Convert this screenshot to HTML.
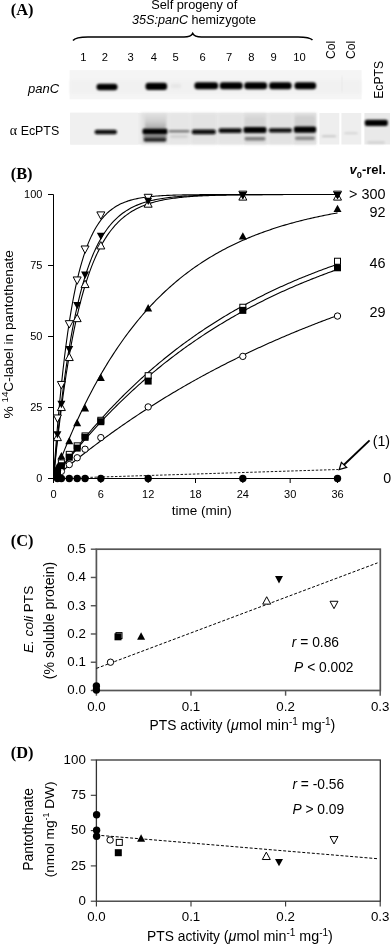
<!DOCTYPE html><html><head><meta charset="utf-8"><style>html,body{margin:0;padding:0;background:#fff;width:392px;height:944px;overflow:hidden}svg{display:block;will-change:transform}text{font-family:"Liberation Sans",sans-serif}</style></head><body>
<svg width="392" height="944" viewBox="0 0 392 944">
<defs><filter id="bl1" x="-50%" y="-200%" width="200%" height="500%"><feGaussianBlur stdDeviation="0.9"/></filter><filter id="bl2" x="-50%" y="-200%" width="200%" height="500%"><feGaussianBlur stdDeviation="1.4"/></filter><linearGradient id="sm" x1="0" y1="1" x2="0" y2="0"><stop offset="0" stop-color="#ababab"/><stop offset="0.45" stop-color="#cdcdcd"/><stop offset="1" stop-color="#e0e0e0"/></linearGradient><filter id="bl3" x="-20%" y="-20%" width="140%" height="140%"><feGaussianBlur stdDeviation="2.5"/></filter></defs>
<rect width="392" height="944" fill="#fff"/>
<text x="10.8" y="15.3" font-family="Liberation Serif" font-weight="bold" font-size="16.4" style="font-family:'Liberation Serif',serif">(A)</text>
<text x="194.2" y="9.3" font-size="12.8" text-anchor="middle">Self progeny of</text>
<text x="194" y="24.4" font-size="12.6" text-anchor="middle"><tspan font-style="italic">35S:panC</tspan> hemizygote</text>
<path d="M73,40.5 C75,37.8 79,37 88,37 L184,37 C189,37 191.5,35.8 192.7,33.4 C193.9,35.8 196.4,37 201.4,37 L298,37 C306,37 310.5,37.9 312.5,40.1" fill="none" stroke="#000" stroke-width="1.5"/>
<text x="83.3" y="60.8" font-size="11.2" text-anchor="middle">1</text>
<text x="104.8" y="60.8" font-size="11.2" text-anchor="middle">2</text>
<text x="130.7" y="60.8" font-size="11.2" text-anchor="middle">3</text>
<text x="153.9" y="60.8" font-size="11.2" text-anchor="middle">4</text>
<text x="175.5" y="60.8" font-size="11.2" text-anchor="middle">5</text>
<text x="202.6" y="60.8" font-size="11.2" text-anchor="middle">6</text>
<text x="229.1" y="60.8" font-size="11.2" text-anchor="middle">7</text>
<text x="251.4" y="60.8" font-size="11.2" text-anchor="middle">8</text>
<text x="273.6" y="60.8" font-size="11.2" text-anchor="middle">9</text>
<text x="299.5" y="60.8" font-size="11.2" text-anchor="middle">10</text>
<text transform="translate(334.6,59.1) rotate(-90)" font-size="12.2">Col</text>
<text transform="translate(355.3,59.1) rotate(-90)" font-size="12.2">Col</text>
<text transform="translate(382.8,98.8) rotate(-90)" font-size="12.2">EcPTS</text>
<text x="59.2" y="93.2" font-size="13" font-style="italic" text-anchor="end">panC</text>
<text x="59.2" y="134.5" font-size="12.4" text-anchor="end"><tspan style="font-family:'Liberation Serif',serif" font-size="14">&#945;</tspan> EcPTS</text>
<rect x="69.6" y="70.1" width="292" height="29.2" fill="#f5f5f5"/>
<rect x="70" y="80" width="291" height="14" fill="#f1f1f1" filter="url(#bl2)"/>
<rect x="341.5" y="76" width="1" height="16" fill="#e6e6e6" filter="url(#bl1)"/>
<rect x="96.5" y="83.75" width="21" height="6.5" rx="3" fill="#000" filter="url(#bl1)"/>
<rect x="145.5" y="82.65" width="21.6" height="7.3" rx="3" fill="#000" filter="url(#bl1)"/>
<rect x="194.45" y="82.2" width="23.7" height="7" rx="3" fill="#000" filter="url(#bl1)"/>
<rect x="219.75" y="82.2" width="22.9" height="7" rx="3" fill="#000" filter="url(#bl1)"/>
<rect x="244.3" y="82.2" width="22.8" height="7" rx="3" fill="#000" filter="url(#bl1)"/>
<rect x="269.2" y="82.2" width="22.4" height="7" rx="3" fill="#000" filter="url(#bl1)"/>
<rect x="294.5" y="82.2" width="21.6" height="7" rx="3" fill="#000" filter="url(#bl1)"/>
<rect x="171" y="84.5" width="10" height="3" fill="#e2e2e2" filter="url(#bl2)"/>
<rect x="70.2" y="112.8" width="246.1" height="31.7" fill="#ededed"/>
<rect x="70.2" y="112.8" width="68" height="31.7" fill="#f0f0f0"/>
<rect x="141" y="113" width="27" height="31.3" fill="#e0e0e0" filter="url(#bl2)"/>
<rect x="168.5" y="113" width="21.5" height="31.3" fill="#e6e6e6" filter="url(#bl2)"/>
<rect x="191" y="113" width="26" height="31.3" fill="#e3e3e3" filter="url(#bl2)"/>
<rect x="218" y="113" width="24.5" height="31.3" fill="#e4e4e4" filter="url(#bl2)"/>
<rect x="243.5" y="113" width="23.5" height="31.3" fill="#dcdcdc" filter="url(#bl2)"/>
<rect x="268.5" y="113" width="24" height="31.3" fill="#e2e2e2" filter="url(#bl2)"/>
<rect x="293.5" y="113" width="22.8" height="31.3" fill="#dcdcdc" filter="url(#bl2)"/>
<rect x="319.4" y="113" width="19.9" height="31.5" fill="#eeeeee"/>
<rect x="341.4" y="113" width="19.9" height="31.5" fill="#eeeeee"/>
<rect x="364.4" y="113" width="25.6" height="31.5" fill="#e9e9e9"/>
<rect x="145" y="114" width="21" height="14" rx="2" fill="url(#sm)" filter="url(#bl1)"/>
<rect x="245" y="117" width="20" height="10" rx="2" fill="#d4d4d4" filter="url(#bl1)"/>
<rect x="295" y="116" width="20" height="10" rx="2" fill="#d0d0d0" filter="url(#bl1)"/>
<rect x="94.65" y="129.8" width="22.3" height="4.4" rx="2" fill="#111" filter="url(#bl1)"/>
<rect x="143" y="135" width="24" height="3" rx="2" fill="#8a8a8a" filter="url(#bl1)"/>
<rect x="142.5" y="128.5" width="25" height="6" rx="2" fill="#000" filter="url(#bl1)"/>
<rect x="143.5" y="137.4" width="23" height="4.4" rx="2" fill="#262626" filter="url(#bl1)"/>
<rect x="168.3" y="129.9" width="21.4" height="2.6" rx="2" fill="#777" filter="url(#bl1)"/>
<rect x="170" y="135.4" width="18" height="2" rx="2" fill="#c8c8c8" filter="url(#bl1)"/>
<rect x="191.8" y="129.6" width="24" height="4.6" rx="2" fill="#0a0a0a" filter="url(#bl1)"/>
<rect x="218.6" y="128.3" width="23.2" height="4.8" rx="2" fill="#0d0d0d" filter="url(#bl1)"/>
<rect x="243.5" y="127" width="23" height="6" rx="2" fill="#000" filter="url(#bl1)"/>
<rect x="244.5" y="137.1" width="21" height="3.4" rx="2" fill="#7a7a7a" filter="url(#bl1)"/>
<rect x="268.8" y="128.3" width="23.2" height="4.2" rx="2" fill="#0d0d0d" filter="url(#bl1)"/>
<rect x="293.9" y="126.55" width="22.2" height="6.3" rx="2" fill="#000" filter="url(#bl1)"/>
<rect x="295" y="136.4" width="20" height="3.6" rx="2" fill="#888" filter="url(#bl1)"/>
<rect x="321.5" y="135.5" width="15" height="1.6" rx="2" fill="#bbb" filter="url(#bl1)"/>
<rect x="344" y="132.4" width="14" height="1.6" rx="2" fill="#ccc" filter="url(#bl1)"/>
<rect x="364.8" y="119.65" width="23" height="6.3" rx="2" fill="#000" filter="url(#bl1)"/>
<rect x="367" y="141.6" width="18" height="2" rx="2" fill="#ccc" filter="url(#bl1)"/>
<text x="10.7" y="178.6" font-weight="bold" font-size="16.4" style="font-family:'Liberation Serif',serif">(B)</text>
<path d="M53.5,194.5 L53.5,483 M53.5,478.5 L337.5,478.5" stroke="#000" stroke-width="1" fill="none"/>
<path d="M48,194.5 L53.5,194.5" stroke="#000" stroke-width="1"/>
<text x="42.4" y="197.7" font-size="11" text-anchor="end">100</text>
<path d="M48,265.5 L53.5,265.5" stroke="#000" stroke-width="1"/>
<text x="42.4" y="268.7" font-size="11" text-anchor="end">75</text>
<path d="M48,336.5 L53.5,336.5" stroke="#000" stroke-width="1"/>
<text x="42.4" y="339.7" font-size="11" text-anchor="end">50</text>
<path d="M48,407.5 L53.5,407.5" stroke="#000" stroke-width="1"/>
<text x="42.4" y="410.7" font-size="11" text-anchor="end">25</text>
<path d="M48,478.5 L53.5,478.5" stroke="#000" stroke-width="1"/>
<text x="42.4" y="481.7" font-size="11" text-anchor="end">0</text>
<path d="M53.5,478.5 L53.5,483" stroke="#000" stroke-width="1"/>
<text x="53.5" y="497.5" font-size="11" text-anchor="middle">0</text>
<path d="M100.83,478.5 L100.83,483" stroke="#000" stroke-width="1"/>
<text x="100.83" y="497.5" font-size="11" text-anchor="middle">6</text>
<path d="M148.17,478.5 L148.17,483" stroke="#000" stroke-width="1"/>
<text x="148.17" y="497.5" font-size="11" text-anchor="middle">12</text>
<path d="M195.5,478.5 L195.5,483" stroke="#000" stroke-width="1"/>
<text x="195.5" y="497.5" font-size="11" text-anchor="middle">18</text>
<path d="M242.83,478.5 L242.83,483" stroke="#000" stroke-width="1"/>
<text x="242.83" y="497.5" font-size="11" text-anchor="middle">24</text>
<path d="M290.17,478.5 L290.17,483" stroke="#000" stroke-width="1"/>
<text x="290.17" y="497.5" font-size="11" text-anchor="middle">30</text>
<path d="M337.5,478.5 L337.5,483" stroke="#000" stroke-width="1"/>
<text x="337.5" y="497.5" font-size="11" text-anchor="middle">36</text>
<text x="201.7" y="515.2" font-size="13.5" text-anchor="middle">time (min)</text>
<text transform="translate(12.8,334.3) rotate(-90)" font-size="13.7" text-anchor="middle">% <tspan font-size="9.8" dy="-5">14</tspan><tspan dy="5">C-label in pantothenate</tspan></text>
<text x="385.8" y="174.3" font-size="13" font-weight="bold" text-anchor="end"><tspan font-style="italic">v</tspan><tspan font-size="9.3" dy="3.5">0</tspan><tspan dy="-3.5">-rel.</tspan></text>
<text x="385.5" y="199" font-size="14.4" text-anchor="end">&gt; 300</text>
<text x="385.5" y="216.7" font-size="14.4" text-anchor="end">92</text>
<text x="385.5" y="268" font-size="14.4" text-anchor="end">46</text>
<text x="385.5" y="317" font-size="14.4" text-anchor="end">29</text>
<text x="390" y="445.5" font-size="14.2" text-anchor="end">(1)</text>
<text x="391.1" y="483.3" font-size="14.2" text-anchor="end">0</text>
<path d="M369.6,440.4 L343.5,465.3" stroke="#000" stroke-width="1.9" fill="none"/>
<path d="M339.2,469.6 L341.4,462.4 L346.6,467.4 Z" stroke="#000" stroke-width="1.3" fill="#fff" stroke-linejoin="miter"/>
<g fill="none" stroke="#000" stroke-width="1.1">
<path d="M53.5,478.5 L55.08,456.67 L56.66,436.51 L58.23,417.9 L59.81,400.73 L61.39,384.87 L62.97,370.23 L64.54,356.72 L66.12,344.25 L67.7,332.74 L69.28,322.11 L70.86,312.3 L72.43,303.24 L74.01,294.88 L75.59,287.16 L77.17,280.04 L78.74,273.46 L80.32,267.39 L81.9,261.79 L83.48,256.61 L85.06,251.84 L86.63,247.43 L88.21,243.36 L89.79,239.6 L91.37,236.14 L92.94,232.94 L94.52,229.98 L96.1,227.25 L97.68,224.73 L99.26,222.41 L100.83,220.26 L102.41,218.28 L103.99,216.45 L105.57,214.77 L107.14,213.21 L108.72,211.77 L110.3,210.44 L111.88,209.22 L113.46,208.09 L115.03,207.04 L116.61,206.08 L118.19,205.19 L119.77,204.36 L121.34,203.61 L122.92,202.91 L124.5,202.26 L126.08,201.66 L127.66,201.11 L129.23,200.6 L130.81,200.13 L132.39,199.7 L133.97,199.3 L135.54,198.93 L137.12,198.59 L138.7,198.28 L140.28,197.99 L141.86,197.72 L143.43,197.47 L145.01,197.24 L146.59,197.03 L148.17,196.84 L149.74,196.66 L151.32,196.49 L152.9,196.34 L154.48,196.2 L156.06,196.07 L157.63,195.95 L159.21,195.84 L160.79,195.73 L162.37,195.64 L163.94,195.55 L165.52,195.47 L167.1,195.39 L168.68,195.33 L170.26,195.26 L171.83,195.2 L173.41,195.15 L174.99,195.1 L176.57,195.05 L178.14,195.01 L179.72,194.97 L181.3,194.94 L182.88,194.9 L184.46,194.87 L186.03,194.84 L187.61,194.82 L189.19,194.79 L190.77,194.77 L192.34,194.75 L193.92,194.73 L195.5,194.71 L197.08,194.7 L198.66,194.68 L200.23,194.67 L201.81,194.65 L203.39,194.64 L204.97,194.63 L206.54,194.62 L208.12,194.61 L209.7,194.6 L211.28,194.6 L212.86,194.59 L214.43,194.58 L216.01,194.57 L217.59,194.57 L219.17,194.56 L220.74,194.56 L222.32,194.55 L223.9,194.55 L225.48,194.55 L227.06,194.54 L228.63,194.54 L230.21,194.54 L231.79,194.53 L233.37,194.53 L234.94,194.53 L236.52,194.53 L238.1,194.52 L239.68,194.52 L241.26,194.52 L242.83,194.52 L244.41,194.52 L245.99,194.52 L247.57,194.52 L249.14,194.51 L250.72,194.51 L252.3,194.51 L253.88,194.51 L255.46,194.51 L257.03,194.51 L258.61,194.51 L260.19,194.51 L261.77,194.51 L263.34,194.51 L264.92,194.51 L266.5,194.51 L268.08,194.51 L269.66,194.5 L271.23,194.5 L272.81,194.5 L274.39,194.5 L275.97,194.5 L277.54,194.5 L279.12,194.5 L280.7,194.5 L282.28,194.5 L283.86,194.5 L285.43,194.5 L287.01,194.5 L288.59,194.5 L290.17,194.5 L291.74,194.5 L293.32,194.5 L294.9,194.5 L296.48,194.5 L298.06,194.5 L299.63,194.5 L301.21,194.5 L302.79,194.5 L304.37,194.5 L305.94,194.5 L307.52,194.5 L309.1,194.5 L310.68,194.5 L312.26,194.5 L313.83,194.5 L315.41,194.5 L316.99,194.5 L318.57,194.5 L320.14,194.5 L321.72,194.5 L323.3,194.5 L324.88,194.5 L326.46,194.5 L328.03,194.5 L329.61,194.5 L331.19,194.5 L332.77,194.5 L334.34,194.5 L335.92,194.5 L337.5,194.5"/>
<path d="M53.5,478.5 L55.08,461.43 L56.66,445.38 L58.23,430.3 L59.81,416.12 L61.39,402.8 L62.97,390.28 L64.54,378.51 L66.12,367.45 L67.7,357.05 L69.28,347.28 L70.86,338.09 L72.43,329.46 L74.01,321.35 L75.59,313.72 L77.17,306.55 L78.74,299.82 L80.32,293.49 L81.9,287.53 L83.48,281.94 L85.06,276.69 L86.63,271.74 L88.21,267.1 L89.79,262.74 L91.37,258.63 L92.94,254.78 L94.52,251.15 L96.1,247.75 L97.68,244.55 L99.26,241.54 L100.83,238.71 L102.41,236.05 L103.99,233.56 L105.57,231.21 L107.14,229 L108.72,226.93 L110.3,224.98 L111.88,223.14 L113.46,221.42 L115.03,219.8 L116.61,218.28 L118.19,216.85 L119.77,215.51 L121.34,214.25 L122.92,213.06 L124.5,211.94 L126.08,210.89 L127.66,209.91 L129.23,208.98 L130.81,208.11 L132.39,207.29 L133.97,206.52 L135.54,205.8 L137.12,205.12 L138.7,204.48 L140.28,203.88 L141.86,203.32 L143.43,202.79 L145.01,202.29 L146.59,201.82 L148.17,201.38 L149.74,200.97 L151.32,200.58 L152.9,200.21 L154.48,199.87 L156.06,199.55 L157.63,199.24 L159.21,198.96 L160.79,198.69 L162.37,198.44 L163.94,198.2 L165.52,197.98 L167.1,197.77 L168.68,197.57 L170.26,197.39 L171.83,197.22 L173.41,197.05 L174.99,196.9 L176.57,196.75 L178.14,196.62 L179.72,196.49 L181.3,196.37 L182.88,196.26 L184.46,196.15 L186.03,196.05 L187.61,195.96 L189.19,195.87 L190.77,195.79 L192.34,195.71 L193.92,195.64 L195.5,195.57 L197.08,195.51 L198.66,195.45 L200.23,195.39 L201.81,195.34 L203.39,195.29 L204.97,195.24 L206.54,195.19 L208.12,195.15 L209.7,195.11 L211.28,195.08 L212.86,195.04 L214.43,195.01 L216.01,194.98 L217.59,194.95 L219.17,194.92 L220.74,194.9 L222.32,194.87 L223.9,194.85 L225.48,194.83 L227.06,194.81 L228.63,194.79 L230.21,194.77 L231.79,194.76 L233.37,194.74 L234.94,194.73 L236.52,194.71 L238.1,194.7 L239.68,194.69 L241.26,194.68 L242.83,194.67 L244.41,194.66 L245.99,194.65 L247.57,194.64 L249.14,194.63 L250.72,194.62 L252.3,194.61 L253.88,194.61 L255.46,194.6 L257.03,194.6 L258.61,194.59 L260.19,194.58 L261.77,194.58 L263.34,194.57 L264.92,194.57 L266.5,194.57 L268.08,194.56 L269.66,194.56 L271.23,194.55 L272.81,194.55 L274.39,194.55 L275.97,194.55 L277.54,194.54 L279.12,194.54 L280.7,194.54 L282.28,194.54 L283.86,194.53 L285.43,194.53 L287.01,194.53 L288.59,194.53 L290.17,194.53 L291.74,194.52 L293.32,194.52 L294.9,194.52 L296.48,194.52 L298.06,194.52 L299.63,194.52 L301.21,194.52 L302.79,194.52 L304.37,194.51 L305.94,194.51 L307.52,194.51 L309.1,194.51 L310.68,194.51 L312.26,194.51 L313.83,194.51 L315.41,194.51 L316.99,194.51 L318.57,194.51 L320.14,194.51 L321.72,194.51 L323.3,194.51 L324.88,194.51 L326.46,194.51 L328.03,194.51 L329.61,194.51 L331.19,194.51 L332.77,194.5 L334.34,194.5 L335.92,194.5 L337.5,194.5"/>
<path d="M53.5,478.5 L55.08,462.82 L56.66,448 L58.23,434 L59.81,420.78 L61.39,408.29 L62.97,396.48 L64.54,385.33 L66.12,374.79 L67.7,364.84 L69.28,355.43 L70.86,346.54 L72.43,338.15 L74.01,330.22 L75.59,322.72 L77.17,315.64 L78.74,308.95 L80.32,302.63 L81.9,296.66 L83.48,291.02 L85.06,285.69 L86.63,280.66 L88.21,275.9 L89.79,271.41 L91.37,267.16 L92.94,263.15 L94.52,259.36 L96.1,255.78 L97.68,252.39 L99.26,249.2 L100.83,246.18 L102.41,243.32 L103.99,240.63 L105.57,238.08 L107.14,235.67 L108.72,233.4 L110.3,231.25 L111.88,229.22 L113.46,227.3 L115.03,225.49 L116.61,223.78 L118.19,222.17 L119.77,220.64 L121.34,219.19 L122.92,217.83 L124.5,216.54 L126.08,215.33 L127.66,214.18 L129.23,213.09 L130.81,212.06 L132.39,211.09 L133.97,210.18 L135.54,209.31 L137.12,208.49 L138.7,207.72 L140.28,206.99 L141.86,206.3 L143.43,205.65 L145.01,205.03 L146.59,204.45 L148.17,203.9 L149.74,203.38 L151.32,202.89 L152.9,202.43 L154.48,201.99 L156.06,201.58 L157.63,201.19 L159.21,200.82 L160.79,200.47 L162.37,200.14 L163.94,199.83 L165.52,199.53 L167.1,199.26 L168.68,198.99 L170.26,198.75 L171.83,198.51 L173.41,198.29 L174.99,198.08 L176.57,197.88 L178.14,197.7 L179.72,197.52 L181.3,197.35 L182.88,197.19 L184.46,197.05 L186.03,196.91 L187.61,196.77 L189.19,196.65 L190.77,196.53 L192.34,196.42 L193.92,196.31 L195.5,196.21 L197.08,196.12 L198.66,196.03 L200.23,195.94 L201.81,195.86 L203.39,195.79 L204.97,195.72 L206.54,195.65 L208.12,195.59 L209.7,195.53 L211.28,195.47 L212.86,195.42 L214.43,195.37 L216.01,195.32 L217.59,195.27 L219.17,195.23 L220.74,195.19 L222.32,195.15 L223.9,195.12 L225.48,195.08 L227.06,195.05 L228.63,195.02 L230.21,194.99 L231.79,194.96 L233.37,194.94 L234.94,194.91 L236.52,194.89 L238.1,194.87 L239.68,194.85 L241.26,194.83 L242.83,194.81 L244.41,194.79 L245.99,194.78 L247.57,194.76 L249.14,194.75 L250.72,194.73 L252.3,194.72 L253.88,194.71 L255.46,194.7 L257.03,194.69 L258.61,194.68 L260.19,194.67 L261.77,194.66 L263.34,194.65 L264.92,194.64 L266.5,194.63 L268.08,194.63 L269.66,194.62 L271.23,194.61 L272.81,194.61 L274.39,194.6 L275.97,194.59 L277.54,194.59 L279.12,194.58 L280.7,194.58 L282.28,194.58 L283.86,194.57 L285.43,194.57 L287.01,194.56 L288.59,194.56 L290.17,194.56 L291.74,194.55 L293.32,194.55 L294.9,194.55 L296.48,194.55 L298.06,194.54 L299.63,194.54 L301.21,194.54 L302.79,194.54 L304.37,194.53 L305.94,194.53 L307.52,194.53 L309.1,194.53 L310.68,194.53 L312.26,194.53 L313.83,194.52 L315.41,194.52 L316.99,194.52 L318.57,194.52 L320.14,194.52 L321.72,194.52 L323.3,194.52 L324.88,194.52 L326.46,194.52 L328.03,194.51 L329.61,194.51 L331.19,194.51 L332.77,194.51 L334.34,194.51 L335.92,194.51 L337.5,194.51"/>
<path d="M53.5,478.5 L55.08,474.22 L56.66,470 L58.23,465.84 L59.81,461.75 L61.39,457.72 L62.97,453.75 L64.54,449.83 L66.12,445.98 L67.7,442.19 L69.28,438.45 L70.86,434.77 L72.43,431.15 L74.01,427.58 L75.59,424.06 L77.17,420.6 L78.74,417.19 L80.32,413.83 L81.9,410.52 L83.48,407.26 L85.06,404.05 L86.63,400.89 L88.21,397.78 L89.79,394.71 L91.37,391.69 L92.94,388.72 L94.52,385.79 L96.1,382.9 L97.68,380.06 L99.26,377.26 L100.83,374.5 L102.41,371.79 L103.99,369.11 L105.57,366.48 L107.14,363.89 L108.72,361.33 L110.3,358.81 L111.88,356.33 L113.46,353.89 L115.03,351.49 L116.61,349.12 L118.19,346.79 L119.77,344.49 L121.34,342.23 L122.92,340 L124.5,337.8 L126.08,335.64 L127.66,333.51 L129.23,331.42 L130.81,329.35 L132.39,327.32 L133.97,325.31 L135.54,323.34 L137.12,321.4 L138.7,319.48 L140.28,317.6 L141.86,315.74 L143.43,313.91 L145.01,312.11 L146.59,310.34 L148.17,308.59 L149.74,306.87 L151.32,305.17 L152.9,303.5 L154.48,301.86 L156.06,300.24 L157.63,298.64 L159.21,297.07 L160.79,295.53 L162.37,294 L163.94,292.5 L165.52,291.02 L167.1,289.57 L168.68,288.13 L170.26,286.72 L171.83,285.33 L173.41,283.96 L174.99,282.61 L176.57,281.28 L178.14,279.97 L179.72,278.68 L181.3,277.41 L182.88,276.16 L184.46,274.93 L186.03,273.72 L187.61,272.52 L189.19,271.34 L190.77,270.18 L192.34,269.04 L193.92,267.92 L195.5,266.81 L197.08,265.72 L198.66,264.65 L200.23,263.59 L201.81,262.55 L203.39,261.52 L204.97,260.51 L206.54,259.51 L208.12,258.53 L209.7,257.57 L211.28,256.61 L212.86,255.68 L214.43,254.75 L216.01,253.85 L217.59,252.95 L219.17,252.07 L220.74,251.2 L222.32,250.34 L223.9,249.5 L225.48,248.67 L227.06,247.86 L228.63,247.05 L230.21,246.26 L231.79,245.48 L233.37,244.71 L234.94,243.95 L236.52,243.2 L238.1,242.47 L239.68,241.75 L241.26,241.03 L242.83,240.33 L244.41,239.64 L245.99,238.96 L247.57,238.29 L249.14,237.63 L250.72,236.98 L252.3,236.34 L253.88,235.71 L255.46,235.08 L257.03,234.47 L258.61,233.87 L260.19,233.27 L261.77,232.69 L263.34,232.11 L264.92,231.55 L266.5,230.99 L268.08,230.44 L269.66,229.9 L271.23,229.36 L272.81,228.84 L274.39,228.32 L275.97,227.81 L277.54,227.3 L279.12,226.81 L280.7,226.32 L282.28,225.84 L283.86,225.37 L285.43,224.9 L287.01,224.45 L288.59,223.99 L290.17,223.55 L291.74,223.11 L293.32,222.68 L294.9,222.25 L296.48,221.84 L298.06,221.42 L299.63,221.02 L301.21,220.62 L302.79,220.22 L304.37,219.83 L305.94,219.45 L307.52,219.08 L309.1,218.71 L310.68,218.34 L312.26,217.98 L313.83,217.63 L315.41,217.28 L316.99,216.93 L318.57,216.6 L320.14,216.26 L321.72,215.93 L323.3,215.61 L324.88,215.29 L326.46,214.98 L328.03,214.67 L329.61,214.37 L331.19,214.07 L332.77,213.77 L334.34,213.48 L335.92,213.19 L337.5,212.91"/>
<path d="M53.5,478.5 L55.08,476.29 L56.66,474.1 L58.23,471.93 L59.81,469.78 L61.39,467.64 L62.97,465.52 L64.54,463.41 L66.12,461.32 L67.7,459.25 L69.28,457.19 L70.86,455.15 L72.43,453.12 L74.01,451.11 L75.59,449.12 L77.17,447.14 L78.74,445.18 L80.32,443.23 L81.9,441.3 L83.48,439.38 L85.06,437.48 L86.63,435.59 L88.21,433.72 L89.79,431.86 L91.37,430.01 L92.94,428.19 L94.52,426.37 L96.1,424.57 L97.68,422.78 L99.26,421.01 L100.83,419.25 L102.41,417.5 L103.99,415.77 L105.57,414.05 L107.14,412.34 L108.72,410.65 L110.3,408.97 L111.88,407.3 L113.46,405.65 L115.03,404.01 L116.61,402.38 L118.19,400.77 L119.77,399.16 L121.34,397.57 L122.92,396 L124.5,394.43 L126.08,392.88 L127.66,391.34 L129.23,389.81 L130.81,388.29 L132.39,386.78 L133.97,385.29 L135.54,383.81 L137.12,382.34 L138.7,380.88 L140.28,379.43 L141.86,377.99 L143.43,376.57 L145.01,375.15 L146.59,373.75 L148.17,372.36 L149.74,370.97 L151.32,369.6 L152.9,368.24 L154.48,366.89 L156.06,365.55 L157.63,364.22 L159.21,362.91 L160.79,361.6 L162.37,360.3 L163.94,359.01 L165.52,357.73 L167.1,356.46 L168.68,355.21 L170.26,353.96 L171.83,352.72 L173.41,351.49 L174.99,350.27 L176.57,349.06 L178.14,347.86 L179.72,346.67 L181.3,345.48 L182.88,344.31 L184.46,343.15 L186.03,341.99 L187.61,340.85 L189.19,339.71 L190.77,338.58 L192.34,337.46 L193.92,336.35 L195.5,335.25 L197.08,334.15 L198.66,333.07 L200.23,331.99 L201.81,330.92 L203.39,329.86 L204.97,328.81 L206.54,327.77 L208.12,326.73 L209.7,325.71 L211.28,324.69 L212.86,323.68 L214.43,322.67 L216.01,321.68 L217.59,320.69 L219.17,319.71 L220.74,318.73 L222.32,317.77 L223.9,316.81 L225.48,315.86 L227.06,314.92 L228.63,313.98 L230.21,313.05 L231.79,312.13 L233.37,311.22 L234.94,310.31 L236.52,309.41 L238.1,308.52 L239.68,307.63 L241.26,306.76 L242.83,305.88 L244.41,305.02 L245.99,304.16 L247.57,303.31 L249.14,302.46 L250.72,301.62 L252.3,300.79 L253.88,299.96 L255.46,299.15 L257.03,298.33 L258.61,297.53 L260.19,296.72 L261.77,295.93 L263.34,295.14 L264.92,294.36 L266.5,293.58 L268.08,292.81 L269.66,292.05 L271.23,291.29 L272.81,290.54 L274.39,289.79 L275.97,289.05 L277.54,288.32 L279.12,287.59 L280.7,286.87 L282.28,286.15 L283.86,285.44 L285.43,284.73 L287.01,284.03 L288.59,283.33 L290.17,282.64 L291.74,281.96 L293.32,281.28 L294.9,280.61 L296.48,279.94 L298.06,279.27 L299.63,278.61 L301.21,277.96 L302.79,277.31 L304.37,276.67 L305.94,276.03 L307.52,275.4 L309.1,274.77 L310.68,274.14 L312.26,273.53 L313.83,272.91 L315.41,272.3 L316.99,271.7 L318.57,271.1 L320.14,270.5 L321.72,269.91 L323.3,269.33 L324.88,268.75 L326.46,268.17 L328.03,267.6 L329.61,267.03 L331.19,266.46 L332.77,265.91 L334.34,265.35 L335.92,264.8 L337.5,264.25"/>
<path d="M53.5,478.5 L55.08,476.41 L56.66,474.33 L58.23,472.26 L59.81,470.22 L61.39,468.18 L62.97,466.17 L64.54,464.16 L66.12,462.18 L67.7,460.2 L69.28,458.24 L70.86,456.3 L72.43,454.37 L74.01,452.45 L75.59,450.55 L77.17,448.66 L78.74,446.79 L80.32,444.93 L81.9,443.08 L83.48,441.25 L85.06,439.43 L86.63,437.62 L88.21,435.83 L89.79,434.05 L91.37,432.29 L92.94,430.53 L94.52,428.79 L96.1,427.07 L97.68,425.35 L99.26,423.65 L100.83,421.96 L102.41,420.28 L103.99,418.62 L105.57,416.97 L107.14,415.33 L108.72,413.7 L110.3,412.08 L111.88,410.48 L113.46,408.89 L115.03,407.3 L116.61,405.74 L118.19,404.18 L119.77,402.63 L121.34,401.1 L122.92,399.57 L124.5,398.06 L126.08,396.56 L127.66,395.07 L129.23,393.59 L130.81,392.13 L132.39,390.67 L133.97,389.22 L135.54,387.79 L137.12,386.36 L138.7,384.95 L140.28,383.54 L141.86,382.15 L143.43,380.77 L145.01,379.39 L146.59,378.03 L148.17,376.68 L149.74,375.33 L151.32,374 L152.9,372.68 L154.48,371.36 L156.06,370.06 L157.63,368.76 L159.21,367.48 L160.79,366.2 L162.37,364.94 L163.94,363.68 L165.52,362.43 L167.1,361.2 L168.68,359.97 L170.26,358.75 L171.83,357.54 L173.41,356.33 L174.99,355.14 L176.57,353.96 L178.14,352.78 L179.72,351.61 L181.3,350.46 L182.88,349.31 L184.46,348.16 L186.03,347.03 L187.61,345.91 L189.19,344.79 L190.77,343.68 L192.34,342.58 L193.92,341.49 L195.5,340.41 L197.08,339.33 L198.66,338.26 L200.23,337.2 L201.81,336.15 L203.39,335.11 L204.97,334.07 L206.54,333.04 L208.12,332.02 L209.7,331.01 L211.28,330 L212.86,329 L214.43,328.01 L216.01,327.03 L217.59,326.05 L219.17,325.08 L220.74,324.12 L222.32,323.16 L223.9,322.21 L225.48,321.27 L227.06,320.34 L228.63,319.41 L230.21,318.49 L231.79,317.57 L233.37,316.67 L234.94,315.76 L236.52,314.87 L238.1,313.98 L239.68,313.1 L241.26,312.23 L242.83,311.36 L244.41,310.5 L245.99,309.64 L247.57,308.79 L249.14,307.95 L250.72,307.11 L252.3,306.28 L253.88,305.46 L255.46,304.64 L257.03,303.83 L258.61,303.02 L260.19,302.22 L261.77,301.43 L263.34,300.64 L264.92,299.86 L266.5,299.08 L268.08,298.31 L269.66,297.55 L271.23,296.79 L272.81,296.03 L274.39,295.28 L275.97,294.54 L277.54,293.8 L279.12,293.07 L280.7,292.34 L282.28,291.62 L283.86,290.91 L285.43,290.2 L287.01,289.49 L288.59,288.79 L290.17,288.09 L291.74,287.4 L293.32,286.72 L294.9,286.04 L296.48,285.36 L298.06,284.7 L299.63,284.03 L301.21,283.37 L302.79,282.71 L304.37,282.06 L305.94,281.42 L307.52,280.78 L309.1,280.14 L310.68,279.51 L312.26,278.88 L313.83,278.26 L315.41,277.64 L316.99,277.03 L318.57,276.42 L320.14,275.82 L321.72,275.22 L323.3,274.62 L324.88,274.03 L326.46,273.45 L328.03,272.86 L329.61,272.29 L331.19,271.71 L332.77,271.14 L334.34,270.58 L335.92,270.02 L337.5,269.46"/>
<path d="M53.5,478.5 L55.08,477.16 L56.66,475.82 L58.23,474.49 L59.81,473.17 L61.39,471.85 L62.97,470.54 L64.54,469.23 L66.12,467.93 L67.7,466.64 L69.28,465.35 L70.86,464.07 L72.43,462.8 L74.01,461.53 L75.59,460.27 L77.17,459.01 L78.74,457.76 L80.32,456.51 L81.9,455.27 L83.48,454.04 L85.06,452.81 L86.63,451.59 L88.21,450.38 L89.79,449.17 L91.37,447.96 L92.94,446.76 L94.52,445.57 L96.1,444.38 L97.68,443.2 L99.26,442.03 L100.83,440.86 L102.41,439.69 L103.99,438.53 L105.57,437.38 L107.14,436.23 L108.72,435.09 L110.3,433.95 L111.88,432.82 L113.46,431.69 L115.03,430.57 L116.61,429.45 L118.19,428.34 L119.77,427.23 L121.34,426.13 L122.92,425.04 L124.5,423.95 L126.08,422.86 L127.66,421.78 L129.23,420.71 L130.81,419.64 L132.39,418.57 L133.97,417.51 L135.54,416.46 L137.12,415.41 L138.7,414.37 L140.28,413.33 L141.86,412.29 L143.43,411.26 L145.01,410.24 L146.59,409.22 L148.17,408.2 L149.74,407.19 L151.32,406.18 L152.9,405.18 L154.48,404.19 L156.06,403.2 L157.63,402.21 L159.21,401.23 L160.79,400.25 L162.37,399.28 L163.94,398.31 L165.52,397.34 L167.1,396.38 L168.68,395.43 L170.26,394.48 L171.83,393.53 L173.41,392.59 L174.99,391.66 L176.57,390.72 L178.14,389.8 L179.72,388.87 L181.3,387.95 L182.88,387.04 L184.46,386.13 L186.03,385.22 L187.61,384.32 L189.19,383.42 L190.77,382.53 L192.34,381.64 L193.92,380.75 L195.5,379.87 L197.08,379 L198.66,378.12 L200.23,377.26 L201.81,376.39 L203.39,375.53 L204.97,374.68 L206.54,373.82 L208.12,372.98 L209.7,372.13 L211.28,371.29 L212.86,370.46 L214.43,369.62 L216.01,368.8 L217.59,367.97 L219.17,367.15 L220.74,366.33 L222.32,365.52 L223.9,364.71 L225.48,363.91 L227.06,363.11 L228.63,362.31 L230.21,361.52 L231.79,360.73 L233.37,359.94 L234.94,359.16 L236.52,358.38 L238.1,357.61 L239.68,356.83 L241.26,356.07 L242.83,355.3 L244.41,354.54 L245.99,353.78 L247.57,353.03 L249.14,352.28 L250.72,351.54 L252.3,350.79 L253.88,350.05 L255.46,349.32 L257.03,348.59 L258.61,347.86 L260.19,347.13 L261.77,346.41 L263.34,345.69 L264.92,344.98 L266.5,344.27 L268.08,343.56 L269.66,342.85 L271.23,342.15 L272.81,341.45 L274.39,340.76 L275.97,340.07 L277.54,339.38 L279.12,338.69 L280.7,338.01 L282.28,337.33 L283.86,336.66 L285.43,335.99 L287.01,335.32 L288.59,334.65 L290.17,333.99 L291.74,333.33 L293.32,332.67 L294.9,332.02 L296.48,331.37 L298.06,330.72 L299.63,330.08 L301.21,329.44 L302.79,328.8 L304.37,328.16 L305.94,327.53 L307.52,326.9 L309.1,326.27 L310.68,325.65 L312.26,325.03 L313.83,324.41 L315.41,323.8 L316.99,323.19 L318.57,322.58 L320.14,321.97 L321.72,321.37 L323.3,320.77 L324.88,320.17 L326.46,319.58 L328.03,318.99 L329.61,318.4 L331.19,317.81 L332.77,317.23 L334.34,316.65 L335.92,316.07 L337.5,315.5"/>
</g>
<path d="M53.5,478.5 L338.4,469.5" stroke="#000" stroke-width="0.9" stroke-dasharray="2.5,1.6" fill="none"/>
<path d="M53.5,478.5 L337.5,478.5" stroke="#000" stroke-width="1.1"/>
<circle cx="57.44" cy="474.24" r="3.2" fill="#fff" stroke="#000" stroke-width="1"/><circle cx="61.39" cy="471.4" r="3.2" fill="#fff" stroke="#000" stroke-width="1"/><circle cx="69.28" cy="464.58" r="3.2" fill="#fff" stroke="#000" stroke-width="1"/><circle cx="77.17" cy="457.77" r="3.2" fill="#fff" stroke="#000" stroke-width="1"/><circle cx="85.06" cy="449.25" r="3.2" fill="#fff" stroke="#000" stroke-width="1"/><circle cx="100.83" cy="437.6" r="3.2" fill="#fff" stroke="#000" stroke-width="1"/><circle cx="148.17" cy="406.93" r="3.2" fill="#fff" stroke="#000" stroke-width="1"/><circle cx="242.83" cy="356.38" r="3.2" fill="#fff" stroke="#000" stroke-width="1"/><circle cx="337.5" cy="316.05" r="3.2" fill="#fff" stroke="#000" stroke-width="1"/><rect x="54.44" y="468.4" width="6" height="6" fill="#fff" stroke="#000" stroke-width="1"/><rect x="58.39" y="459.88" width="6" height="6" fill="#fff" stroke="#000" stroke-width="1"/><rect x="66.28" y="451.36" width="6" height="6" fill="#fff" stroke="#000" stroke-width="1"/><rect x="74.17" y="442.84" width="6" height="6" fill="#fff" stroke="#000" stroke-width="1"/><rect x="82.06" y="432.9" width="6" height="6" fill="#fff" stroke="#000" stroke-width="1"/><rect x="97.83" y="417.28" width="6" height="6" fill="#fff" stroke="#000" stroke-width="1"/><rect x="145.17" y="372.69" width="6" height="6" fill="#fff" stroke="#000" stroke-width="1"/><rect x="239.83" y="304.25" width="6" height="6" fill="#fff" stroke="#000" stroke-width="1"/><rect x="334.5" y="258.24" width="6" height="6" fill="#fff" stroke="#000" stroke-width="1"/><rect x="53.94" y="469.32" width="7" height="7" fill="#000"/><rect x="57.89" y="462.22" width="7" height="7" fill="#000"/><rect x="65.78" y="453.7" width="7" height="7" fill="#000"/><rect x="73.67" y="444.61" width="7" height="7" fill="#000"/><rect x="81.56" y="433.82" width="7" height="7" fill="#000"/><rect x="97.33" y="418.2" width="7" height="7" fill="#000"/><rect x="144.67" y="377.59" width="7" height="7" fill="#000"/><rect x="239.33" y="306.87" width="7" height="7" fill="#000"/><rect x="334" y="264.27" width="7" height="7" fill="#000"/><polygon points="53.44,470.47 61.44,470.47 57.44,463.07" fill="#000"/><polygon points="57.39,459.39 65.39,459.39 61.39,451.99" fill="#000"/><polygon points="65.28,444.34 73.28,444.34 69.28,436.94" fill="#000"/><polygon points="73.17,426.17 81.17,426.17 77.17,418.77" fill="#000"/><polygon points="81.06,411.4 89.06,411.4 85.06,404" fill="#000"/><polygon points="96.83,381.01 104.83,381.01 100.83,373.61" fill="#000"/><polygon points="144.17,311.43 152.17,311.43 148.17,304.03" fill="#000"/><polygon points="238.83,239.58 246.83,239.58 242.83,232.18" fill="#000"/><polygon points="333.5,212.03 341.5,212.03 337.5,204.63" fill="#000"/><polygon points="53.44,440.65 61.44,440.65 57.44,433.25" fill="#fff" stroke="#000" stroke-width="1"/><polygon points="57.39,410.55 65.39,410.55 61.39,403.15" fill="#fff" stroke="#000" stroke-width="1"/><polygon points="65.28,360.56 73.28,360.56 69.28,353.16" fill="#fff" stroke="#000" stroke-width="1"/><polygon points="73.17,321.65 81.17,321.65 77.17,314.25" fill="#fff" stroke="#000" stroke-width="1"/><polygon points="81.06,287.57 89.06,287.57 85.06,280.17" fill="#fff" stroke="#000" stroke-width="1"/><polygon points="96.83,248.95 104.83,248.95 100.83,241.55" fill="#fff" stroke="#000" stroke-width="1"/><polygon points="144.17,207.2 152.17,207.2 148.17,199.8" fill="#fff" stroke="#000" stroke-width="1"/><polygon points="238.83,200.1 246.83,200.1 242.83,192.7" fill="#fff" stroke="#000" stroke-width="1"/><polygon points="333.5,200.1 341.5,200.1 337.5,192.7" fill="#fff" stroke="#000" stroke-width="1"/><polygon points="53.44,414.96 61.44,414.96 57.44,422.36" fill="#fff" stroke="#000" stroke-width="1"/><polygon points="57.39,381.45 65.39,381.45 61.39,388.85" fill="#fff" stroke="#000" stroke-width="1"/><polygon points="65.28,320.67 73.28,320.67 69.28,328.07" fill="#fff" stroke="#000" stroke-width="1"/><polygon points="73.17,276.94 81.17,276.94 77.17,284.34" fill="#fff" stroke="#000" stroke-width="1"/><polygon points="81.06,245.98 89.06,245.98 85.06,253.38" fill="#fff" stroke="#000" stroke-width="1"/><polygon points="96.83,211.9 104.83,211.9 100.83,219.3" fill="#fff" stroke="#000" stroke-width="1"/><polygon points="144.17,194.29 152.17,194.29 148.17,201.69" fill="#fff" stroke="#000" stroke-width="1"/><polygon points="238.83,191.17 246.83,191.17 242.83,198.57" fill="#fff" stroke="#000" stroke-width="1"/><polygon points="333.5,191.17 341.5,191.17 337.5,198.57" fill="#fff" stroke="#000" stroke-width="1"/><polygon points="53.44,431.15 61.44,431.15 57.44,438.55" fill="#000"/><polygon points="57.39,400.76 65.39,400.76 61.39,408.16" fill="#000"/><polygon points="65.28,345.95 73.28,345.95 69.28,353.35" fill="#000"/><polygon points="73.17,301.93 81.17,301.93 77.17,309.33" fill="#000"/><polygon points="81.06,271.54 89.06,271.54 85.06,278.94" fill="#000"/><polygon points="96.83,232.63 104.83,232.63 100.83,240.03" fill="#000"/><polygon points="144.17,197.7 152.17,197.7 148.17,205.1" fill="#000"/><polygon points="238.83,192.02 246.83,192.02 242.83,199.42" fill="#000"/><polygon points="333.5,192.02 341.5,192.02 337.5,199.42" fill="#000"/><circle cx="57.44" cy="478.5" r="3.7" fill="#000"/><circle cx="61.39" cy="478.5" r="3.7" fill="#000"/><circle cx="69.28" cy="478.5" r="3.7" fill="#000"/><circle cx="77.17" cy="478.5" r="3.7" fill="#000"/><circle cx="85.06" cy="478.5" r="3.7" fill="#000"/><circle cx="100.83" cy="478.5" r="3.7" fill="#000"/><circle cx="148.17" cy="478.5" r="3.7" fill="#000"/><circle cx="242.83" cy="478.5" r="3.7" fill="#000"/><circle cx="337.5" cy="478.5" r="3.7" fill="#000"/>
<text x="10.7" y="546" font-weight="bold" font-size="16.4" style="font-family:'Liberation Serif',serif">(C)</text>
<rect x="96.4" y="549.2" width="283.9" height="141.3" fill="none" stroke="#555" stroke-width="1.7"/>
<path d="M90.8,549.2 L96.4,549.2" stroke="#555" stroke-width="1.44"/>
<text x="85.8" y="553" font-size="13.3" text-anchor="end">0.5</text>
<path d="M90.8,577.46 L96.4,577.46" stroke="#555" stroke-width="1.44"/>
<text x="85.8" y="581.26" font-size="13.3" text-anchor="end">0.4</text>
<path d="M90.8,605.72 L96.4,605.72" stroke="#555" stroke-width="1.44"/>
<text x="85.8" y="609.52" font-size="13.3" text-anchor="end">0.3</text>
<path d="M90.8,633.98 L96.4,633.98" stroke="#555" stroke-width="1.44"/>
<text x="85.8" y="637.78" font-size="13.3" text-anchor="end">0.2</text>
<path d="M90.8,662.24 L96.4,662.24" stroke="#555" stroke-width="1.44"/>
<text x="85.8" y="666.04" font-size="13.3" text-anchor="end">0.1</text>
<path d="M90.8,690.5 L96.4,690.5" stroke="#555" stroke-width="1.44"/>
<text x="85.8" y="694.3" font-size="13.3" text-anchor="end">0.0</text>
<path d="M96.4,690.5 L96.4,695.7" stroke="#555" stroke-width="1.44"/>
<text x="96.4" y="710.5" font-size="13.3" text-anchor="middle">0.0</text>
<path d="M191,690.5 L191,695.7" stroke="#555" stroke-width="1.44"/>
<text x="191" y="710.5" font-size="13.3" text-anchor="middle">0.1</text>
<path d="M285.6,690.5 L285.6,695.7" stroke="#555" stroke-width="1.44"/>
<text x="285.6" y="710.5" font-size="13.3" text-anchor="middle">0.2</text>
<path d="M380.2,690.5 L380.2,695.7" stroke="#555" stroke-width="1.44"/>
<text x="380.2" y="710.5" font-size="13.3" text-anchor="middle">0.3</text>
<text transform="translate(33,619.4) rotate(-90)" font-size="13.6" text-anchor="middle"><tspan font-style="italic">E. coli</tspan> PTS</text>
<text transform="translate(53.6,620.5) rotate(-90)" font-size="14.1" text-anchor="middle">(% soluble protein)</text>
<text x="291.8" y="647.2" font-size="13.8"><tspan font-style="italic">r</tspan> = 0.86</text>
<text x="294.1" y="672" font-size="13.8"><tspan font-style="italic">P</tspan> &lt; 0.002</text>
<path d="M96.4,668.4 L377.5,562.9" stroke="#000" stroke-width="1" stroke-dasharray="3,1.8" fill="none"/>
<circle cx="96.4" cy="686" r="3.7" fill="#000"/>
<circle cx="96.4" cy="690" r="3.7" fill="#000"/>
<circle cx="110.5" cy="662.2" r="3.2" fill="#fff" stroke="#000" stroke-width="1"/>
<rect x="116" y="632.6" width="6" height="6" fill="#fff" stroke="#000" stroke-width="1"/>
<rect x="114.5" y="633.3" width="7" height="7" fill="#000"/>
<polygon points="137.1,639.63 145.1,639.63 141.1,632.23" fill="#000"/>
<polygon points="262.7,604.13 270.7,604.13 266.7,596.73" fill="#fff" stroke="#000" stroke-width="1"/>
<polygon points="275,576.07 283,576.07 279,583.47" fill="#000"/>
<polygon points="330,601.27 338,601.27 334,608.67" fill="#fff" stroke="#000" stroke-width="1"/>
<text x="149.6" y="729.8" font-size="13.8">PTS activity <tspan font-size="14.3">(<tspan font-style="italic">&#956;</tspan>mol min<tspan font-size="10" dy="-5">-1</tspan><tspan dy="5"> mg</tspan><tspan font-size="10" dy="-5">-1</tspan><tspan dy="5">)</tspan></tspan></text>
<text x="10.7" y="757.5" font-weight="bold" font-size="16.4" style="font-family:'Liberation Serif',serif">(D)</text>
<rect x="96.4" y="760" width="283.9" height="141.2" fill="none" stroke="#333" stroke-width="1.3"/>
<path d="M90.8,760 L96.4,760" stroke="#333" stroke-width="1.1"/>
<text x="85.8" y="763.8" font-size="13.3" text-anchor="end">100</text>
<path d="M90.8,795.3 L96.4,795.3" stroke="#333" stroke-width="1.1"/>
<text x="85.8" y="799.1" font-size="13.3" text-anchor="end">75</text>
<path d="M90.8,830.6 L96.4,830.6" stroke="#333" stroke-width="1.1"/>
<text x="85.8" y="834.4" font-size="13.3" text-anchor="end">50</text>
<path d="M90.8,865.9 L96.4,865.9" stroke="#333" stroke-width="1.1"/>
<text x="85.8" y="869.7" font-size="13.3" text-anchor="end">25</text>
<path d="M90.8,901.2 L96.4,901.2" stroke="#333" stroke-width="1.1"/>
<text x="85.8" y="905" font-size="13.3" text-anchor="end">0</text>
<path d="M96.4,901.2 L96.4,906.4" stroke="#333" stroke-width="1.1"/>
<text x="96.4" y="921.2" font-size="13.3" text-anchor="middle">0.0</text>
<path d="M191,901.2 L191,906.4" stroke="#333" stroke-width="1.1"/>
<text x="191" y="921.2" font-size="13.3" text-anchor="middle">0.1</text>
<path d="M285.6,901.2 L285.6,906.4" stroke="#333" stroke-width="1.1"/>
<text x="285.6" y="921.2" font-size="13.3" text-anchor="middle">0.2</text>
<path d="M380.2,901.2 L380.2,906.4" stroke="#333" stroke-width="1.1"/>
<text x="380.2" y="921.2" font-size="13.3" text-anchor="middle">0.3</text>
<text transform="translate(33,829.4) rotate(-90)" font-size="13.9" text-anchor="middle">Pantothenate</text>
<text transform="translate(53.6,829.4) rotate(-90)" font-size="13.6" text-anchor="middle">(nmol mg<tspan font-size="9" dy="-5">-1</tspan><tspan dy="5"> DW)</tspan></text>
<text x="292.4" y="788.9" font-size="13.8"><tspan font-style="italic">r</tspan> = -0.56</text>
<text x="292.4" y="813.9" font-size="13.8"><tspan font-style="italic">P</tspan> &gt; 0.09</text>
<path d="M96.6,835.1 L377.5,858.7" stroke="#000" stroke-width="1" stroke-dasharray="3,1.8" fill="none"/>
<circle cx="96.6" cy="814.7" r="3.7" fill="#000"/>
<circle cx="96.6" cy="830.2" r="3.7" fill="#000"/>
<circle cx="96.6" cy="836.3" r="3.7" fill="#000"/>
<circle cx="110.1" cy="840" r="3.2" fill="#fff" stroke="#000" stroke-width="1"/>
<rect x="116.3" y="839.4" width="6" height="6" fill="#fff" stroke="#000" stroke-width="1"/>
<rect x="114.8" y="849.2" width="7" height="7" fill="#000"/>
<polygon points="137.1,841.73 145.1,841.73 141.1,834.33" fill="#000"/>
<polygon points="262.3,859.53 270.3,859.53 266.3,852.13" fill="#fff" stroke="#000" stroke-width="1"/>
<polygon points="275,858.97 283,858.97 279,866.37" fill="#000"/>
<polygon points="330,836.57 338,836.57 334,843.97" fill="#fff" stroke="#000" stroke-width="1"/>
<text x="147.1" y="940.5" font-size="13.8">PTS activity <tspan font-size="14.3">(<tspan font-style="italic">&#956;</tspan>mol min<tspan font-size="10" dy="-5">-1</tspan><tspan dy="5"> mg</tspan><tspan font-size="10" dy="-5">-1</tspan><tspan dy="5">)</tspan></tspan></text>
</svg></body></html>
